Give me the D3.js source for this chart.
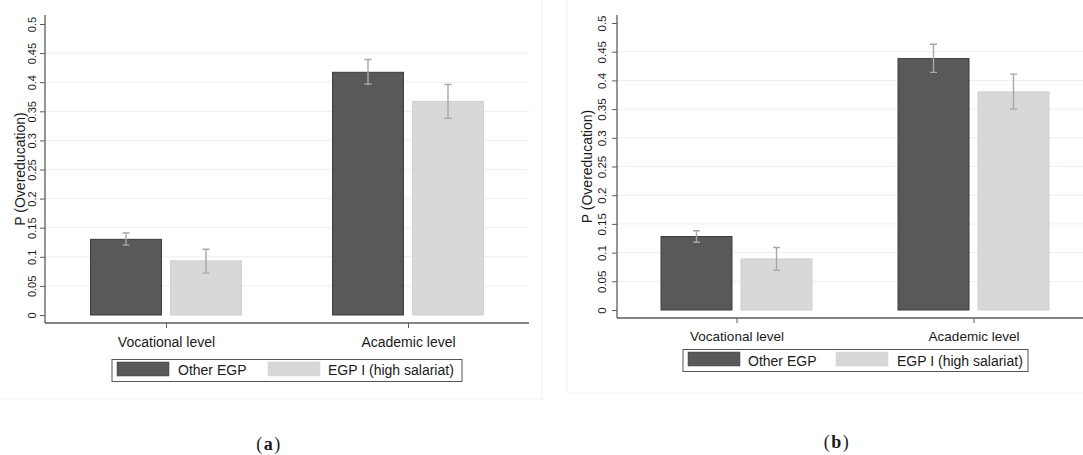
<!DOCTYPE html>
<meta charset="utf-8">
<style>
body { margin: 0; background: #fff; }
text { font-family: "Liberation Sans", Arial, sans-serif; fill: #1a1a1a; }
.grid line { stroke: #e8f0f1; stroke-width: 1; }
.axisline { stroke: #5c5c5c; stroke-width: 1.3; }
.tick line { stroke: #5c5c5c; stroke-width: 1; }
.err { stroke: #a8a8a8; stroke-width: 1.4; fill: none; }
.caption { font-family: "Liberation Serif", "DejaVu Serif", serif; font-size: 18px; letter-spacing: 1.5px; }
</style>
<body>
<script src="https://d3js.org/d3.v7.min.js"></script>
<script>

// categories, groups, ticks
var categories = ["Vocational level", "Academic level"];
var groups = ["Other EGP", "EGP I (high salariat)"];
var yTicks = [0, 0.05, 0.1, 0.15, 0.2, 0.25, 0.3, 0.35, 0.4, 0.45, 0.5];
var yTickLabels = ["0", "0.05", "0.1", "0.15", "0.2", "0.25", "0.3", "0.35", "0.4", "0.45", "0.5"];
var yTitle = "P (Overeducation)";

// panel (a) values
var aOther   = [0.130, 0.417];
var aOtherLo = [0.120, 0.397];
var aOtherHi = [0.141, 0.439];
var aEgp     = [0.093, 0.367];
var aEgpLo   = [0.072, 0.338];
var aEgpHi   = [0.113, 0.396];

// panel (b) values
var bOther   = [0.128, 0.438];
var bOtherLo = [0.118, 0.414];
var bOtherHi = [0.138, 0.463];
var bEgp     = [0.089, 0.380];
var bEgpLo   = [0.069, 0.350];
var bEgpHi   = [0.109, 0.411];

var fills = ["#595959", "#d8d8d8"];
var strokes = ["#3c3c3c", "#d0d0d0"];

var svg = d3.select("body").append("svg")
    .attr("width", 1083)
    .attr("height", 455);

function drawPanel(p) {
  var g = svg.append("g");

  // faint frame of the graph region
  g.append("rect")
      .attr("x", p.frame[0]).attr("y", p.frame[1])
      .attr("width", p.frame[2]).attr("height", p.frame[3])
      .attr("fill", "none").attr("stroke", "#f2f2f2");

  var y = d3.scaleLinear().domain([0, 0.5]).range([p.y0, p.y5]);
  var x = d3.scalePoint().domain(categories).range([p.left, p.right]).padding(0.5);
  var xg = d3.scaleBand().domain(groups).range([-76, 76]).paddingInner(0.1);

  // gridlines
  g.append("g").attr("class", "grid")
    .selectAll("line")
    .data(yTicks.filter(function(d) { return d > 0 && d < 0.5; }))
    .enter().append("line")
      .attr("x1", p.axisX).attr("x2", p.right)
      .attr("y1", function(d) { return y(d); })
      .attr("y2", function(d) { return y(d); });

  // rows: one per group
  var rows = [
    {key: groups[0], v: p.data[0], lo: p.data[1], hi: p.data[2]},
    {key: groups[1], v: p.data[3], lo: p.data[4], hi: p.data[5]}
  ];

  rows.forEach(function(r, gi) {
    categories.forEach(function(c, ci) {
      var bx = x(c) + xg(r.key);
      g.append("rect")
          .attr("x", bx + 0.5)
          .attr("y", y(r.v[ci]))
          .attr("width", xg.bandwidth() - 1)
          .attr("height", y(0) - y(r.v[ci]))
          .attr("fill", fills[gi])
          .attr("stroke", strokes[gi]);
      var cx = bx + xg.bandwidth() / 2;
      g.append("path")
          .attr("class", "err")
          .attr("d", "M" + (cx - 3.5) + "," + y(r.hi[ci]) + "H" + (cx + 3.5) +
                     "M" + cx + "," + y(r.hi[ci]) + "V" + y(r.lo[ci]) +
                     "M" + (cx - 3.5) + "," + y(r.lo[ci]) + "H" + (cx + 3.5));
    });
  });

  // y axis
  var ya = g.append("g")
      .attr("transform", "translate(" + p.axisX + ",0)")
      .call(d3.axisLeft(y).tickValues(yTicks).tickSize(5)
        .tickFormat(function(d, i) { return yTickLabels[i]; }));
  ya.select(".domain").remove();
  ya.selectAll("text")
      .attr("transform", "rotate(-90)")
      .attr("x", 0).attr("y", -p.tickGap).attr("dy", 0)
      .attr("text-anchor", "middle")
      .style("font-size", p.tickFont + "px")
      .style("font-family", "'Liberation Sans', Arial, sans-serif")
      .attr("fill", "#222");

  g.append("line").attr("class", "axisline")
      .attr("x1", p.axisX).attr("x2", p.axisX)
      .attr("y1", p.axisTop).attr("y2", p.axisY);

  // x axis
  var xa = g.append("g")
      .attr("transform", "translate(0," + p.axisY + ")")
      .call(d3.axisBottom(x).tickSize(5));
  xa.select(".domain").remove();
  xa.selectAll("text")
      .attr("y", p.labelGap).attr("dy", 0)
      .style("font-size", p.labelFont + "px")
      .style("font-family", "'Liberation Sans', Arial, sans-serif")
      .attr("fill", "#1a1a1a");

  g.append("line").attr("class", "axisline")
      .attr("x1", p.axisX).attr("x2", p.right)
      .attr("y1", p.axisY).attr("y2", p.axisY);

  // y title
  g.append("text")
      .attr("transform", "translate(" + p.titleX + "," + ((p.axisTop + p.axisY) / 2) + ") rotate(-90)")
      .attr("text-anchor", "middle")
      .style("font-size", "14px")
      .text(yTitle);

  // legend
  var L = p.legend;
  g.append("rect")
      .attr("x", L.x).attr("y", L.y).attr("width", L.w).attr("height", L.h)
      .attr("fill", "#fff").attr("stroke", "#555").attr("stroke-width", 1);
  groups.forEach(function(name, i) {
    g.append("rect")
        .attr("x", L.sw[i]).attr("y", L.y + 2.5)
        .attr("width", 52).attr("height", L.h - 8)
        .attr("fill", fills[i]).attr("stroke", strokes[i]).attr("stroke-width", 0.5);
    g.append("text")
        .attr("x", L.tx[i]).attr("y", L.base)
        .style("font-size", "14px")
        .text(name);
  });

  // caption
  var cap = g.append("text")
      .attr("class", "caption")
      .attr("x", p.capX).attr("y", p.capY)
      .attr("text-anchor", "middle");
  cap.append("tspan").text("(");
  cap.append("tspan").attr("font-weight", "bold").text(p.capLetter);
  cap.append("tspan").text(")");
}

drawPanel({
  data: [aOther, aOtherLo, aOtherHi, aEgp, aEgpLo, aEgpHi],
  frame: [-1, -1, 543, 400],
  left: 45, right: 529, axisX: 45, axisTop: 15, axisY: 323,
  y0: 315, y5: 24,
  tickGap: 9, tickFont: 11, labelGap: 24, labelFont: 14, titleX: 25,
  legend: {x: 112, y: 359.5, w: 350, h: 22, sw: [117, 268], tx: [178, 328], base: 375},
  capX: 269, capY: 450, capLetter: "a"
});

drawPanel({
  data: [bOther, bOtherLo, bOtherHi, bEgp, bEgpLo, bEgpHi],
  frame: [567, -1, 520, 394],
  left: 618, right: 1092, axisX: 617, axisTop: 15, axisY: 318,
  y0: 310, y5: 23,
  tickGap: 11, tickFont: 11.5, labelGap: 23, labelFont: 13.5, titleX: 592,
  legend: {x: 683, y: 349.5, w: 345, h: 22, sw: [688, 836], tx: [748, 897], base: 366},
  capX: 837, capY: 448, capLetter: "b"
});

</script>
</body>
